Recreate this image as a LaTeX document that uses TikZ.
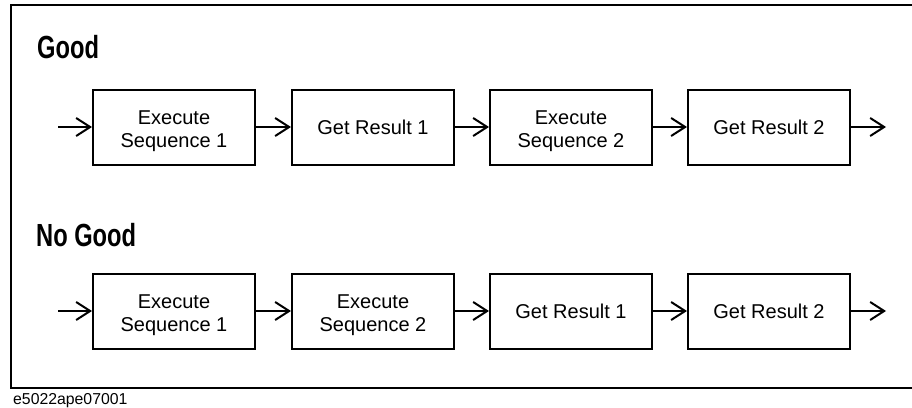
\documentclass[tikz,border=0pt]{standalone}
\usepackage{fontspec}
\setmainfont{Liberation Sans}
\newfontfamily\headfont[FakeStretch=0.74]{Liberation Sans}
\usetikzlibrary{arrows.meta}
\newcommand\twoln[2]{\raisebox{0pt}[\dimexpr\height+8pt\relax][\depth]{\begin{tabular}{@{}c@{}}#1\\#2\end{tabular}}}
\begin{document}
\begin{tikzpicture}[x=1pt,y=-1pt,
  blk/.style={draw,line width=2pt,minimum width=162pt,minimum height=75pt,inner sep=0pt,
    align=center,font=\fontsize{20pt}{23pt}\selectfont},
  flow/.style={line width=2pt,-{Straight Barb[length=14pt,width=18pt,line width=2pt]}},
  head/.style={anchor=base west,inner sep=0pt,font=\headfont\bfseries\fontsize{32pt}{34pt}\selectfont},
  frame/.style={line width=2pt}]
\useasboundingbox (0,0) rectangle (912,407);
\draw[frame] (912,5) -- (11,5) -- (11,388) -- (912,388);
\node[head] (good) at (37,58) {Good};
\node[head] (nogood) at (36,246) {No Good};
% top row
\node[blk] (a1) at (174,127) {\twoln{Execute}{Sequence 1}};
\node[blk] (a2) at (373,127) {Get Result 1};
\node[blk] (a3) at (571,127) {\twoln{Execute}{Sequence 2}};
\node[blk] (a4) at (769,127) {Get Result 2};
\coordinate (ain) at (58,127);
\coordinate (aout) at (886,127);
\draw[flow] (ain) -- (a1);
\draw[flow] (a1) -- (a2);
\draw[flow] (a2) -- (a3);
\draw[flow] (a3) -- (a4);
\draw[flow] (a4) -- (aout);
% bottom row
\node[blk] (b1) at (174,311) {\twoln{Execute}{Sequence 1}};
\node[blk] (b2) at (373,311) {\twoln{Execute}{Sequence 2}};
\node[blk] (b3) at (571,311) {Get Result 1};
\node[blk] (b4) at (769,311) {Get Result 2};
\coordinate (bin) at (58,311);
\coordinate (bout) at (886,311);
\draw[flow] (bin) -- (b1);
\draw[flow] (b1) -- (b2);
\draw[flow] (b2) -- (b3);
\draw[flow] (b3) -- (b4);
\draw[flow] (b4) -- (bout);
\node[anchor=base west,inner sep=0pt,font=\fontsize{15.8pt}{17pt}\selectfont] (fig) at (13,404) {e5022ape07001};
\end{tikzpicture}
\end{document}
